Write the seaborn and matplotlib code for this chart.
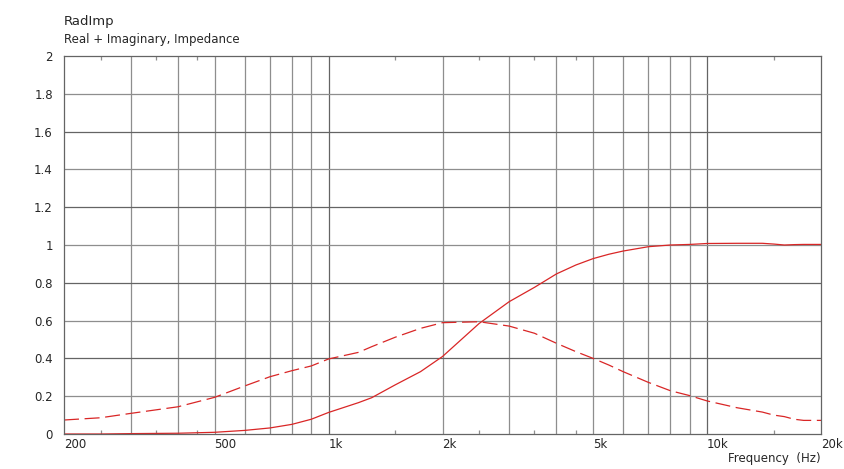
import numpy as np
import pandas as pd
import matplotlib
matplotlib.use("Agg")
import matplotlib.pyplot as plt
import matplotlib.ticker as mticker
import seaborn as sns

# Values
freq_hz = [200, 250, 300, 400, 500, 600, 700, 800, 900, 1000, 1200, 1300, 1500, 1750,
           2000, 2500, 3000, 3500, 4000, 4500, 5000, 5500, 6000, 7000, 8000, 9000,
           10000, 12000, 14000, 15000, 16000, 17000, 18000, 20000]
real_part = [0.0, 0.0, 0.002, 0.004, 0.009, 0.019, 0.032, 0.051, 0.078, 0.114, 0.166, 0.192,
             0.26, 0.33, 0.41, 0.585, 0.70, 0.776, 0.847, 0.894, 0.928, 0.951, 0.968, 0.991,
             1.0, 1.003, 1.008, 1.009, 1.009, 1.005, 1.0, 1.002, 1.003, 1.003]
imag_part = [0.074, 0.086, 0.109, 0.144, 0.194, 0.254, 0.303, 0.335, 0.36, 0.397, 0.432, 0.462,
             0.512, 0.559, 0.589, 0.594, 0.571, 0.533, 0.48, 0.436, 0.40, 0.365, 0.33, 0.273,
             0.229, 0.203, 0.175, 0.139, 0.116, 0.1, 0.092, 0.078, 0.072, 0.072]

x_ticks = [200, 500, 1000, 2000, 5000, 10000, 20000]
x_tick_labels = ["200", "500", "1k", "2k", "5k", "10k", "20k"]
minor_grid = [300, 400, 500, 600, 700, 800, 900, 2000, 3000, 4000, 5000, 6000, 7000, 8000, 9000]
major_grid = [1000, 10000]
small_ticks = [250, 350, 450, 1500, 2500, 3500, 4500, 15000]
y_ticks = [0, 0.2, 0.4, 0.6, 0.8, 1, 1.2, 1.4, 1.6, 1.8, 2]
y_tick_labels = ["0", "0.2", "0.4", "0.6", "0.8", "1", "1.2", "1.4", "1.6", "1.8", "2"]

df = pd.DataFrame({"freq": freq_hz, "real": real_part, "imag": imag_part})

sns.set_style("white")
plt.rcParams["font.family"] = ["DejaVu Sans"]

fig = plt.figure(figsize=(8.44, 4.69), dpi=100)
ax = fig.add_axes([64 / 844, 35 / 469, 757 / 844, 378 / 469])

red = "#d92626"
light = "#8e8e8e"
dark = "#646464"

sns.lineplot(data=df, x="freq", y="real", ax=ax, color=red, linewidth=0.9)
sns.lineplot(data=df, x="freq", y="imag", ax=ax, color=red, linewidth=0.9,
             linestyle=(0, (12, 4.5)))

ax.set_xscale("log")
ax.set_xlim(200, 20000)
ax.set_ylim(0, 2)

# grid lines, drawn by hand since the decades are not evenly filled
for f in minor_grid:
    ax.axvline(f, color=light, linewidth=0.9, zorder=0)
for f in major_grid:
    ax.axvline(f, color=dark, linewidth=0.9, zorder=0)
for i, v in enumerate(y_ticks[1:-1], start=1):
    ax.axhline(v, color=dark if i % 2 == 0 else light, linewidth=0.9, zorder=0)

ax.xaxis.set_major_locator(mticker.FixedLocator(x_ticks))
ax.xaxis.set_major_formatter(mticker.FixedFormatter(x_tick_labels))
ax.xaxis.set_minor_locator(mticker.FixedLocator(small_ticks))
ax.xaxis.set_minor_formatter(mticker.NullFormatter())
ax.tick_params(axis="x", which="major", length=0, labelsize=8.5, pad=3)
ax.tick_params(axis="x", which="minor", length=3, direction="in", top=True,
               bottom=True, color=light, width=0.9)
for lbl in ax.get_xticklabels():
    lbl.set_horizontalalignment("left")

ax.set_yticks(y_ticks)
ax.set_yticklabels(y_tick_labels)
ax.tick_params(axis="y", length=0, labelsize=8.5, pad=8)

for sp in ax.spines.values():
    sp.set_color(dark)
    sp.set_linewidth(0.9)

ax.set_xlabel("")
ax.set_ylabel("")

fig.text(64 / 844, 1 - 22 / 469, "RadImp", fontsize=9.5, va="center", ha="left")
fig.text(64 / 844, 1 - 39 / 469, "Real + Imaginary, Impedance", fontsize=8.5,
         va="center", ha="left")
fig.text(821 / 844, 1 - 458 / 469, "Frequency  (Hz)", fontsize=8.5, va="center", ha="right")

fig.savefig("out.png", dpi=100)
